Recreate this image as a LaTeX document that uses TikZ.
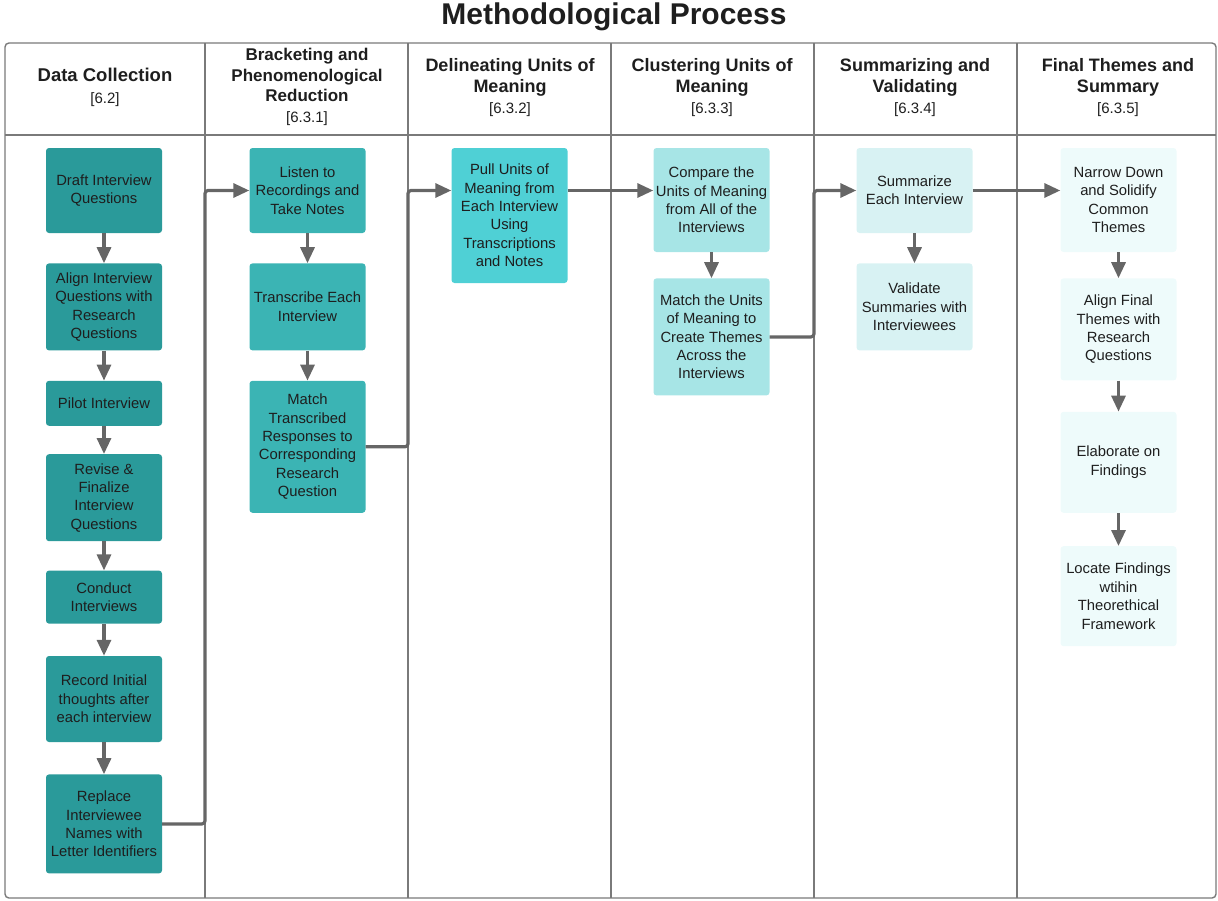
\documentclass[tikz,border=0pt]{standalone}
\usepackage{fontspec}
\setmainfont{Liberation Sans}
\usetikzlibrary{positioning}
\usetikzlibrary{arrows.meta}
\definecolor{laneA}{HTML}{2A9A9A}
\definecolor{laneB}{HTML}{3BB4B4}
\definecolor{laneC}{HTML}{4FD0D5}
\definecolor{laneD}{HTML}{A7E5E6}
\definecolor{laneE}{HTML}{D8F2F3}
\definecolor{laneF}{HTML}{EEFBFB}
\definecolor{framegray}{HTML}{7A7A7A}
\definecolor{arrowgray}{HTML}{666666}
\definecolor{textdark}{HTML}{1E1E1E}
\newcommand{\lanenum}[1]{{\mdseries\fontsize{15}{21}\selectfont[#1]}}
\tikzset{%
  lanebox/.style={rectangle, rounded corners=3pt, align=center, minimum width=116pt,
    inner sep=1pt, text=textdark, font=\fontsize{14.8}{18.4}\selectfont},
  lanehead/.style={align=center, text=textdark, font=\fontsize{18}{21}\selectfont\bfseries},
  laneline/.style={draw=framegray, line width=1.4pt},
  flow/.style={-{Triangle[length=16pt 0 0,width=14pt 0 0]}, line width=3.2pt, draw=arrowgray,
    rounded corners=3pt}
}

\begin{document}
\begin{tikzpicture}[x=1pt,y=-1pt]
  \useasboundingbox (0,0) rectangle (1218,900);
  \node[font=\fontsize{30}{34}\selectfont\bfseries, text=textdark] (title) at (614,17) {Methodological Process};

  % lanes
  \draw[laneline, rounded corners=4pt] (5,43) rectangle (1216,898);
  \draw[laneline] (5,135) -- (1216,135);
  \foreach \x/\n in {205/1,408/2,611/3,814/4,1017/5}
    \draw[laneline] (\x,43) coordinate (d\n) -- (\x,898);

  \node[lanehead, font=\fontsize{18.5}{22}\selectfont\bfseries] (h1) at (105,87) {Data Collection\\\lanenum{6.2}};
  \node[lanehead, font=\fontsize{17}{20.5}\selectfont\bfseries] (h2) at (307,87) {Bracketing and\\Phenomenological\\Reduction\\\lanenum{6.3.1}};
  \node[lanehead] (h3) at (510,88) {Delineating Units of\\Meaning\\\lanenum{6.3.2}};
  \node[lanehead] (h4) at (712,88) {Clustering Units of\\Meaning\\\lanenum{6.3.3}};
  \node[lanehead] (h5) at (915,88) {Summarizing and\\Validating\\\lanenum{6.3.4}};
  \node[lanehead] (h6) at (1118,88) {Final Themes and\\Summary\\\lanenum{6.3.5}};

  % data collection
  \node[lanebox, fill=laneA, minimum height=85pt] (draft) at (104,190.5) {Draft Interview\\Questions};
  \node[lanebox, fill=laneA, minimum height=87pt, below=30pt of draft] (alignq) {Align Interview\\Questions with\\Research\\Questions};
  \node[lanebox, fill=laneA, minimum height=45pt, below=30pt of alignq] (pilot) {Pilot Interview};
  \node[lanebox, fill=laneA, minimum height=87pt, below=28pt of pilot] (revise) {Revise \&\\Finalize\\Interview\\Questions};
  \node[lanebox, fill=laneA, minimum height=53pt, below=29pt of revise] (conduct) {Conduct\\Interviews};
  \node[lanebox, fill=laneA, minimum height=86pt, below=32pt of conduct] (record) {Record Initial\\thoughts after\\each interview};
  \node[lanebox, fill=laneA, minimum height=99pt, below=32pt of record] (replace) {Replace\\Interviewee\\Names with\\Letter Identifiers};

  % bracketing
  \node[lanebox, fill=laneB, minimum height=85pt] (listen) at (307.5,190.5) {Listen to\\Recordings and\\Take Notes};
  \node[lanebox, fill=laneB, minimum height=87pt, below=30pt of listen] (transcribe) {Transcribe Each\\Interview};
  \node[lanebox, fill=laneB, minimum height=132pt, below=30pt of transcribe] (matchresp) {Match\\Transcribed\\Responses to\\Corresponding\\Research\\Question};

  % delineating
  \node[lanebox, fill=laneC, minimum height=135pt] (pull) at (509.5,215.5) {Pull Units of\\Meaning from\\Each Interview\\Using\\Transcriptions\\and Notes};

  % clustering
  \node[lanebox, fill=laneD, minimum height=104pt] (compare) at (711.5,200) {Compare the\\Units of Meaning\\from All of the\\Interviews};
  \node[lanebox, fill=laneD, minimum height=117pt, below=26pt of compare] (matchunits) {Match the Units\\of Meaning to\\Create Themes\\Across the\\Interviews};

  % summarizing
  \node[lanebox, fill=laneE, minimum height=85pt] (summarize) at (914.5,190.5) {Summarize\\Each Interview};
  \node[lanebox, fill=laneE, minimum height=87pt, below=30pt of summarize] (validate) {Validate\\Summaries with\\Interviewees};

  % final themes
  \node[lanebox, fill=laneF, minimum height=104pt] (narrow) at (1118.5,200) {Narrow Down\\and Solidify\\Common\\Themes};
  \node[lanebox, fill=laneF, minimum height=102pt, below=26pt of narrow] (alignf) {Align Final\\Themes with\\Research\\Questions};
  \node[lanebox, fill=laneF, minimum height=101pt, below=31pt of alignf] (elaborate) {Elaborate on\\Findings};
  \node[lanebox, fill=laneF, minimum height=100pt, below=33pt of elaborate] (locate) {Locate Findings\\wtihin\\Theorethical\\Framework};

  % arrows within lanes
  \foreach \a/\b in {draft/alignq, alignq/pilot, pilot/revise, revise/conduct, conduct/record,
      record/replace, listen/transcribe, transcribe/matchresp, compare/matchunits,
      summarize/validate, narrow/alignf, alignf/elaborate, elaborate/locate}
    \draw[flow] (\a.south) -- (\b.north);

  % arrows across lanes
  \draw[flow] (replace.east) -- (replace.east -| d1) |- (listen.west);
  \draw[flow] (matchresp.east) -- (matchresp.east -| d2) |- (pull.west |- listen);
  \draw[flow] (pull.east |- listen) -- (compare.west |- listen);
  \draw[flow] (matchunits.east) -- (matchunits.east -| d4) |- (summarize.west);
  \draw[flow] (summarize.east) -- (narrow.west |- summarize);
\end{tikzpicture}
\end{document}
